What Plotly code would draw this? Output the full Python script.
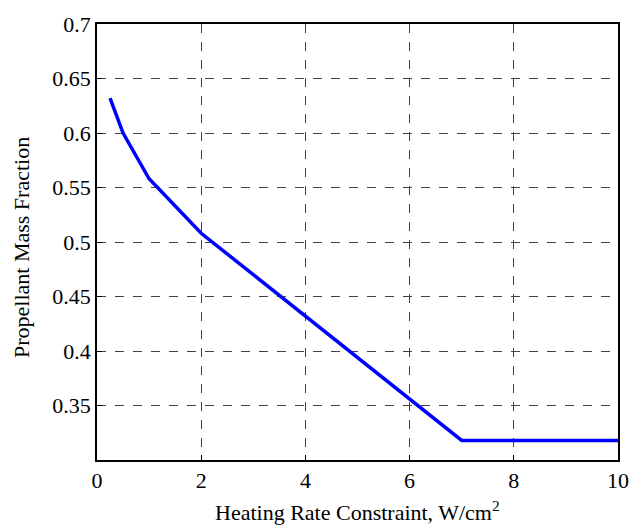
import plotly.graph_objects as go

heating_rate = [0.25, 0.5, 1, 2, 3, 4, 5, 6, 7, 8, 9, 10]
mass_fraction = [0.632, 0.600, 0.558, 0.508, 0.470, 0.432, 0.394, 0.356, 0.318, 0.318, 0.318, 0.318]
x_ticks = [0, 2, 4, 6, 8, 10]
y_ticks = [0.35, 0.4, 0.45, 0.5, 0.55, 0.6, 0.65, 0.7]
y_ticktext = ["0.35", "0.4", "0.45", "0.5", "0.55", "0.6", "0.65", "0.7"]

fig = go.Figure()
fig.add_trace(go.Scatter(x=heating_rate, y=mass_fraction, mode="lines",
                         line=dict(color="#0000ff", width=3.5)))

font = dict(family="Liberation Serif, Times New Roman, serif", size=22, color="black")
axis_common = dict(showline=True, linecolor="black", linewidth=1.5, mirror=True,
                   ticks="inside", ticklen=5, tickcolor="black",
                   showgrid=True, gridcolor="#444444", griddash="dash", gridwidth=1,
                   zeroline=False, tickfont=font)
fig.update_layout(
    width=641, height=528, paper_bgcolor="white", plot_bgcolor="white",
    margin=dict(l=97, r=22, t=14, b=68), showlegend=False, font=font,
    xaxis=dict(range=[0, 10], tickvals=x_ticks, **axis_common),
    yaxis=dict(range=[0.3, 0.7], tickvals=y_ticks, ticktext=y_ticktext, **axis_common),
    annotations=[
        dict(text="Heating Rate Constraint, W/cm<sup>2</sup>", font=font,
             xref="paper", yref="paper", x=0.5, y=-0.118,
             xanchor="center", yanchor="middle", showarrow=False),
        dict(text="Propellant Mass Fraction", font=font, textangle=-90,
             xref="paper", yref="paper", x=-0.1437, y=0.4865,
             xanchor="center", yanchor="middle", showarrow=False),
    ],
)
fig.write_html("out.html")
